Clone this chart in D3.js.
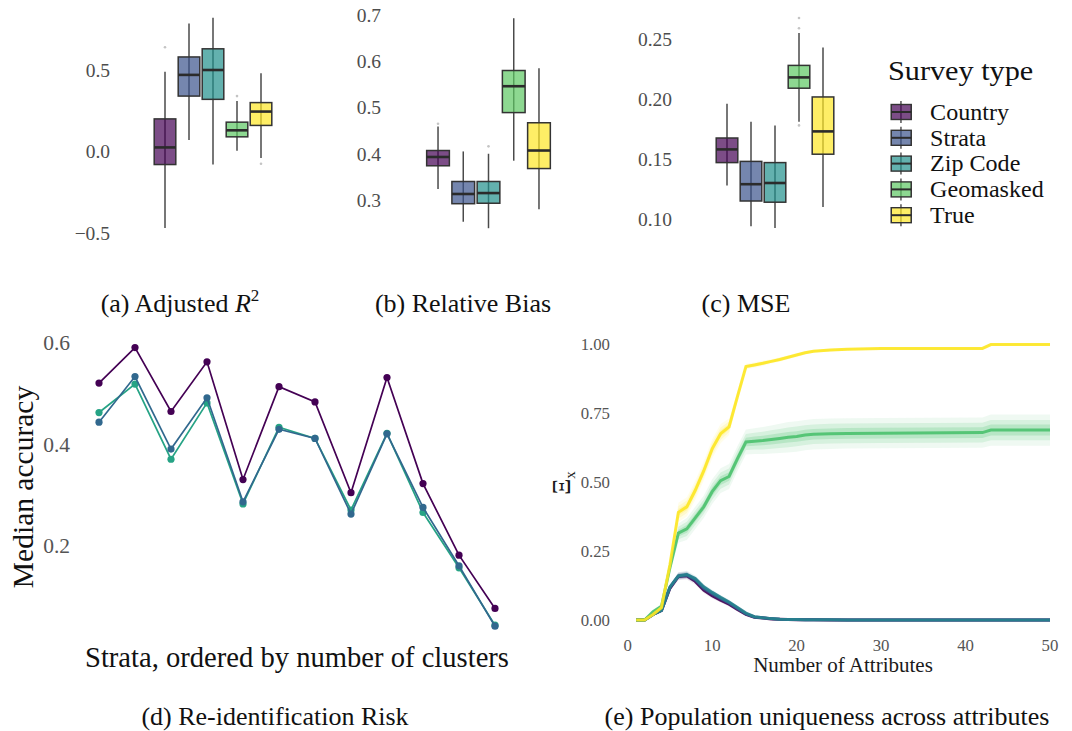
<!DOCTYPE html>
<html>
<head>
<meta charset="utf-8">
<script src="https://cdn.jsdelivr.net/npm/d3@7"></script>
<style>
  body { margin: 0; background: #fff; }
  svg { display: block; }
  text { font-family: "Liberation Serif", "Times New Roman", serif; }
</style>
</head>
<body>
<svg id="fig" width="1072" height="731"></svg>
<script>
// ---------- data ----------
const surveyTypes = ["Country", "Strata", "Zip Code", "Geomasked", "True"];
const surveyColors = ["#440154", "#3b528b", "#21908c", "#5dc863", "#fde725"];

// box summaries: [lower whisker, Q1, median, Q3, upper whisker]
const adjR2Stats = [
  [-0.47, -0.08, 0.025, 0.20, 0.49],
  [0.07, 0.34, 0.47, 0.58, 0.785],
  [-0.08, 0.32, 0.50, 0.63, 0.82],
  [0.005, 0.09, 0.13, 0.18, 0.31],
  [-0.04, 0.16, 0.245, 0.30, 0.48]
];
const adjR2Outliers = [[0.64], [], [], [0.34], [-0.075]];
const adjR2Ticks = [-0.5, 0, 0.5];

const biasStats = [
  [0.324, 0.374, 0.393, 0.407, 0.459],
  [0.253, 0.292, 0.313, 0.340, 0.405],
  [0.239, 0.293, 0.315, 0.340, 0.400],
  [0.385, 0.489, 0.546, 0.580, 0.693],
  [0.280, 0.368, 0.407, 0.467, 0.585]
];
const biasOutliers = [[0.465], [], [0.416], [], []];
const biasTicks = [0.3, 0.4, 0.5, 0.6, 0.7];

const mseStats = [
  [0.128, 0.147, 0.158, 0.1675, 0.196],
  [0.094, 0.115, 0.129, 0.148, 0.181],
  [0.0925, 0.114, 0.130, 0.147, 0.178],
  [0.181, 0.209, 0.218, 0.228, 0.255],
  [0.110, 0.154, 0.173, 0.2017, 0.243]
];
const mseOutliers = [[], [], [], [0.259, 0.2675, 0.178], []];
const mseTicks = [0.10, 0.15, 0.20, 0.25];

// re-identification risk per stratum (strata ordered by number of clusters)
const strataOrder = [1, 2, 3, 4, 5, 6, 7, 8, 9, 10, 11, 12];
const countryAcc = [0.520, 0.590, 0.464, 0.562, 0.330, 0.513, 0.483, 0.304, 0.531, 0.322, 0.181, 0.076];
const strataAcc  = [0.443, 0.533, 0.390, 0.491, 0.286, 0.429, 0.411, 0.262, 0.420, 0.275, 0.160, 0.041];
const zipAcc     = [0.462, 0.518, 0.370, 0.481, 0.282, 0.433, 0.411, 0.270, 0.421, 0.265, 0.156, 0.043];
const riskColors = ["#440154", "#31688e", "#26a385"];
const riskTicks = [0.2, 0.4, 0.6];

// population uniqueness vs number of attributes (median and run-to-run spread)
const attributes = [1,2,3,4,5,6,7,8,9,10,11,12,13,14,15,16,17,18,19,20,21,22,24,26,30,42,43,50];
const uniqTrue      = [0,0,0.020,0.045,0.20,0.39,0.41,0.47,0.54,0.62,0.675,0.70,0.81,0.918,0.924,0.93,0.937,0.944,0.952,0.96,0.968,0.974,0.978,0.981,0.984,0.984,0.998,0.998];
const spreadTrue    = [0,0,0.005,0.008,0.015,0.035,0.035,0.035,0.035,0.035,0.035,0.03,0.02,0.01,0.01,0.01,0.008,0.008,0.007,0.007,0.006,0.005,0.005,0.004,0.004,0.004,0.004,0.004];
const uniqGeo       = [0,0,0.030,0.050,0.19,0.315,0.33,0.37,0.41,0.465,0.505,0.52,0.585,0.645,0.648,0.65,0.654,0.658,0.662,0.665,0.67,0.673,0.675,0.676,0.677,0.679,0.688,0.688];
const spreadGeo     = [0,0,0.005,0.01,0.02,0.035,0.04,0.04,0.04,0.045,0.045,0.045,0.045,0.045,0.047,0.049,0.051,0.053,0.055,0.055,0.055,0.055,0.055,0.055,0.055,0.055,0.057,0.057];
const uniqZip       = [0,0,0.020,0.035,0.12,0.160,0.165,0.150,0.120,0.100,0.082,0.065,0.045,0.025,0.012,0.008,0.005,0.003,0.002,0.002,0.001,0.001,0.001,0,0,0,0,0];
const uniqStrata    = [0,0,0.020,0.035,0.118,0.159,0.163,0.146,0.115,0.095,0.078,0.062,0.042,0.022,0.011,0.008,0.005,0.003,0.002,0.002,0.001,0.001,0.001,0,0,0,0,0];
const uniqCountry   = [0,0,0.020,0.035,0.115,0.158,0.160,0.140,0.108,0.088,0.072,0.057,0.038,0.020,0.010,0.007,0.004,0.003,0.002,0.001,0.001,0.001,0,0,0,0,0,0];
const spreadLow     = [0,0,0.004,0.006,0.01,0.013,0.013,0.011,0.01,0.01,0.009,0.008,0.007,0.005,0.004,0.003,0.002,0.002,0.002,0.002,0.002,0.002,0.002,0.002,0.002,0.002,0.002,0.002];
const uniqXTicks = [0, 10, 20, 30, 40, 50];
const uniqYTicks = [0, 0.25, 0.5, 0.75, 1.0];

// ---------- drawing ----------
const svg = d3.select("#fig");
const tickGray = "#4d4d4d";

function boxPanel(stats, outliers, ticks, fmt, yDomain, yRange, xRange, labelRight) {
  const g = svg.append("g");
  const y = d3.scaleLinear().domain(yDomain).range(yRange);
  const x = d3.scaleBand().domain(surveyTypes).range(xRange).paddingInner(0.1).paddingOuter(0.05);
  const bw = x.bandwidth();

  g.selectAll("text.tick").data(ticks).join("text")
    .attr("x", labelRight).attr("y", d => y(d)).attr("dy", "0.35em")
    .attr("text-anchor", "end").attr("font-size", 19.5).attr("fill", tickGray)
    .text(d => fmt(d));

  const boxes = g.selectAll("g.box").data(surveyTypes).join("g")
    .attr("transform", d => `translate(${x(d) + bw / 2},0)`);

  boxes.append("line")
    .attr("y1", (d, i) => y(stats[i][0])).attr("y2", (d, i) => y(stats[i][4]))
    .attr("stroke", "#4a4a4a").attr("stroke-width", 1.5);

  boxes.append("rect")
    .attr("x", -bw / 2).attr("width", bw)
    .attr("y", (d, i) => y(stats[i][3]))
    .attr("height", (d, i) => y(stats[i][1]) - y(stats[i][3]))
    .attr("fill", (d, i) => surveyColors[i]).attr("fill-opacity", 0.7)
    .attr("stroke", "#333").attr("stroke-width", 1.5);

  boxes.append("line")
    .attr("x1", -bw / 2).attr("x2", bw / 2)
    .attr("y1", (d, i) => y(stats[i][2])).attr("y2", (d, i) => y(stats[i][2]))
    .attr("stroke", "#2b2b2b").attr("stroke-width", 2.6);

  boxes.each(function (d, i) {
    d3.select(this).selectAll("circle").data(outliers[i]).join("circle")
      .attr("cx", 0).attr("cy", v => y(v)).attr("r", 1.3).attr("fill", "#c4c4c4");
  });
}

boxPanel(adjR2Stats, adjR2Outliers, adjR2Ticks, d3.format(".1f"), [-0.5, 0.5], [233, 70], [153, 273], 110);
boxPanel(biasStats, biasOutliers, biasTicks, d3.format(".1f"), [0.3, 0.7], [200, 15], [425.4, 551.6], 381);
boxPanel(mseStats, mseOutliers, mseTicks, d3.format(".2f"), [0.10, 0.25], [219, 39], [715, 835], 672);

// legend
const leg = svg.append("g").attr("transform", "translate(888,0) scale(1.08,1)");
leg.append("text").attr("x", 0).attr("y", 80).attr("font-size", 28).attr("fill", "#111").text("Survey type");
const legItems = leg.selectAll("g.item").data(surveyTypes).join("g")
  .attr("transform", (d, i) => `translate(0,${112 + i * 25.8})`);
legItems.append("line").attr("x1", 12).attr("x2", 12).attr("y1", -11).attr("y2", 11)
  .attr("stroke", "#4a4a4a").attr("stroke-width", 1.3);
legItems.append("rect").attr("x", 3).attr("y", -7.5).attr("width", 18.5).attr("height", 15)
  .attr("fill", (d, i) => surveyColors[i]).attr("fill-opacity", 0.7)
  .attr("stroke", "#333").attr("stroke-width", 1.4);
legItems.append("line").attr("x1", 3).attr("x2", 21.5).attr("y1", 0).attr("y2", 0)
  .attr("stroke", "#2b2b2b").attr("stroke-width", 2);
legItems.append("text").attr("x", 39).attr("y", 7.8).attr("font-size", 22.3).attr("fill", "#111").text(d => d);

// panel (d): re-identification risk
{
  const g = svg.append("g");
  const x = d3.scalePoint().domain(strataOrder).range([99, 495]);
  const y = d3.scaleLinear().domain([0.2, 0.6]).range([545.5, 342.5]);
  g.selectAll("text.tick").data(riskTicks).join("text")
    .attr("x", 70).attr("y", d => y(d)).attr("dy", "0.35em")
    .attr("text-anchor", "end").attr("font-size", 21.5).attr("fill", "#555")
    .text(d3.format(".1f"));
  const seriesList = [zipAcc, strataAcc, countryAcc];
  const colorList = [riskColors[2], riskColors[1], riskColors[0]];
  const line = d3.line().x((d, i) => x(strataOrder[i])).y(d => y(d));
  seriesList.forEach((s, k) => {
    g.append("path").datum(s).attr("d", line).attr("fill", "none")
      .attr("stroke", colorList[k]).attr("stroke-width", 1.7);
    g.selectAll(null).data(s).join("circle")
      .attr("cx", (d, i) => x(strataOrder[i])).attr("cy", d => y(d)).attr("r", 3.6)
      .attr("fill", colorList[k]);
  });
  g.append("text").attr("transform", "translate(33,487) rotate(-90)")
    .attr("text-anchor", "middle").attr("font-size", 29.5).attr("fill", "#111").text("Median accuracy");
  g.append("text").attr("x", 297).attr("y", 667).attr("text-anchor", "middle")
    .attr("font-size", 28.6).attr("fill", "#111").text("Strata, ordered by number of clusters");
}

// panel (e): population uniqueness
{
  const g = svg.append("g");
  const x = d3.scaleLinear().domain([0, 50]).range([627.7, 1050]);
  const y = d3.scaleLinear().domain([0, 1]).range([620, 344]);
  g.selectAll("text.ytick").data(uniqYTicks).join("text")
    .attr("x", 610).attr("y", d => y(d)).attr("dy", "0.35em")
    .attr("text-anchor", "end").attr("font-size", 16.8).attr("fill", "#555")
    .text(d3.format(".2f"));
  g.selectAll("text.xtick").data(uniqXTicks).join("text")
    .attr("x", d => x(d)).attr("y", 651)
    .attr("text-anchor", "middle").attr("font-size", 16.8).attr("fill", "#555")
    .text(d => d);

  const series = [
    { med: uniqCountry, sp: spreadLow, color: surveyColors[0] },
    { med: uniqStrata, sp: spreadLow, color: surveyColors[1] },
    { med: uniqZip, sp: spreadLow, color: "#26828e" },
    { med: uniqGeo, sp: spreadGeo, color: "#4ac16d" },
    { med: uniqTrue, sp: spreadTrue, color: "#fde725" }
  ];
  series.forEach(s => {
    [1, 0.65, 0.35].forEach((f, k) => {
      const area = d3.area()
        .x((d, i) => x(attributes[i]))
        .y0((d, i) => y(Math.max(0, d - f * s.sp[i])))
        .y1((d, i) => y(Math.min(1, d + f * s.sp[i])));
      g.append("path").datum(s.med).attr("d", area)
        .attr("fill", s.color).attr("fill-opacity", [0.09, 0.15, 0.22][k]);
    });
    g.append("path").datum(s.med)
      .attr("d", d3.line().x((d, i) => x(attributes[i])).y(d => y(d)))
      .attr("fill", "none").attr("stroke", s.color).attr("stroke-width", 3).attr("stroke-opacity", 0.9);
  });

  g.append("text").attr("x", 843).attr("y", 672).attr("text-anchor", "middle")
    .attr("font-size", 21).attr("fill", "#1a1a1a").text("Number of Attributes");
  const yl = g.append("text").attr("transform", "translate(570,483) rotate(-90)")
    .attr("text-anchor", "middle").attr("font-size", 25).attr("fill", "#1a1a1a");
  yl.append("tspan").text("\u039E");
  yl.append("tspan").attr("font-size", 15).attr("dy", 5).text("x");
}

// sub-figure captions
function caption(cx, baseline, parts) {
  const t = svg.append("text")
    .attr("x", cx).attr("y", baseline)
    .attr("text-anchor", "middle").attr("font-size", 26).attr("fill", "#111");
  parts.forEach(p => {
    const s = t.append("tspan").text(p.text);
    if (p.italic) s.attr("font-style", "italic");
    if (p.sup) s.attr("font-size", 17).attr("dy", -11);
  });
}
caption(180, 312, [{ text: "(a) Adjusted " }, { text: "R", italic: true }, { text: "2", sup: true }]);
caption(463, 312, [{ text: "(b) Relative Bias" }]);
caption(746, 312, [{ text: "(c) MSE" }]);
caption(275, 725, [{ text: "(d) Re-identification Risk" }]);
caption(827, 725, [{ text: "(e) Population uniqueness across attributes" }]);
</script>
</body>
</html>
